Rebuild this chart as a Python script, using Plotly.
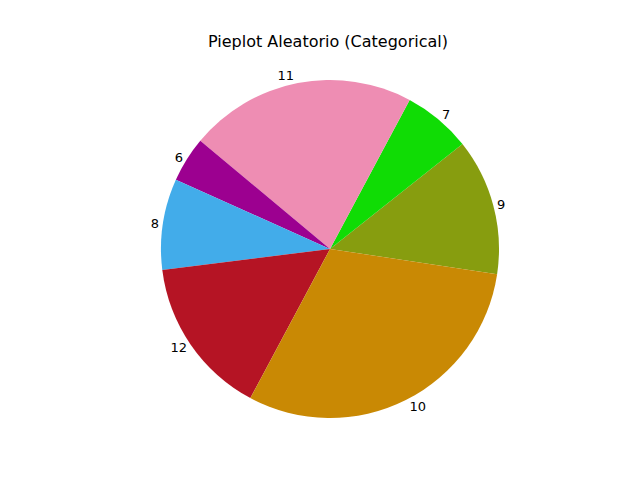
import plotly.graph_objects as go

# slices in counterclockwise order
labels = ["9", "7", "11", "6", "8", "12", "10"]
counts = [6, 3, 10, 2, 4, 7, 14]
colors = ["#879d0f", "#10dc05", "#ee8db3", "#9c0090", "#42acea", "#b51424", "#c98904"]

fig = go.Figure()
fig.add_trace(go.Pie(
    labels=labels,
    values=counts,
    marker=dict(colors=colors, line=dict(width=0)),
    sort=False,
    direction="counterclockwise",
    rotation=51.6,
    textinfo="label",
    textposition="outside",
    textfont=dict(size=13, color="black"),
    showlegend=False,
    hoverinfo="label+value+percent",
))

fig.update_layout(
    width=640,
    height=480,
    title=dict(text="Pieplot Aleatorio (Categorical)", x=0.5, y=0.93, xanchor="center",
               yanchor="middle", font=dict(size=16, color="black")),
    font=dict(family="DejaVu Sans"),
    paper_bgcolor="white",
    margin=dict(l=80, r=80, t=72, b=70),
)

fig.write_html("out.html")
